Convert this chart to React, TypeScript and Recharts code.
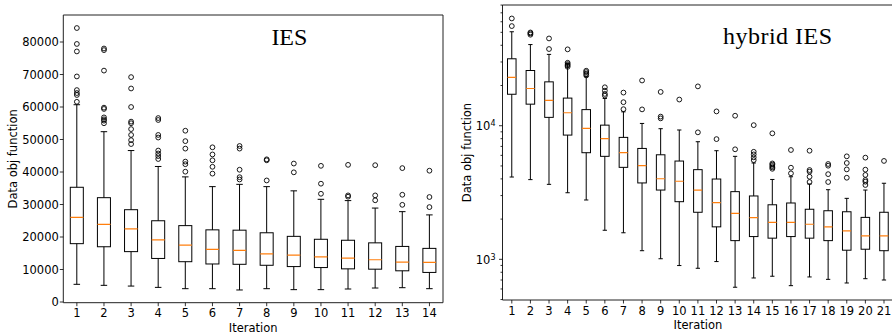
import React from 'react';
import { Bar, ComposedChart, Label, ReferenceArea, Scatter, XAxis, YAxis } from 'recharts';

// ---- left panel: IES ----
const iesIter = ['1', '2', '3', '4', '5', '6', '7', '8', '9', '10', '11', '12', '13', '14'];
const iesLow = [5440, 5130, 4900, 4500, 4100, 4100, 3700, 4100, 3800, 3800, 4000, 4300, 4400, 4100];
const iesQ1 = [17950, 17000, 15500, 13400, 12400, 11700, 11600, 11300, 10900, 10600, 10200, 10100, 9600, 9100];
const iesMed = [26050, 23900, 22500, 19100, 17500, 16200, 15900, 14800, 14400, 13900, 13500, 13000, 12300, 12200];
const iesQ3 = [35300, 32100, 28400, 25000, 23500, 22200, 22100, 21300, 20200, 19300, 19000, 18200, 17100, 16500];
const iesHigh = [60700, 52400, 46600, 41700, 38500, 35500, 36200, 35500, 34200, 31600, 31200, 28900, 27800, 26800];
const iesOut = [
  [84300, 79400, 77100, 69400, 65200, 64300, 63700, 61600],
  [78000, 77500, 71200, 59800, 59400, 56800, 56200, 55800, 55000],
  [69200, 65700, 60000, 55500, 55000, 53200, 51400, 49800, 48600],
  [56600, 56000, 51400, 50600, 46600, 45700, 44900, 44000],
  [52700, 49500, 47200, 43200, 42400, 40100],
  [47600, 45400, 43600, 41600, 39500],
  [48000, 47200, 40700, 38400, 37700],
  [43900, 43600, 37400],
  [42600, 39900],
  [41900, 36400, 33300],
  [42200, 32800, 32400],
  [42100, 32800, 31300],
  [41200, 33000, 29900],
  [40400, 32300, 29200],
];
const iesTicks = [0, 10000, 20000, 30000, 40000, 50000, 60000, 70000, 80000];
const iesDomain = [-215, 88308];

// ---- right panel: hybrid IES ----
const hybIter = ['1', '2', '3', '4', '5', '6', '7', '8', '9', '10', '11', '12', '13', '14', '15', '16', '17', '18', '19', '20', '21'];
const hybLow = [4130, 3950, 3640, 3150, 2780, 1650, 1580, 1160, 1010, 898, 857, 962, 618, 725, 747, 635, 738, 708, 665, 716, 700];
const hybQ1 = [17200, 14500, 11550, 8510, 6280, 5900, 4880, 3730, 3300, 2700, 2250, 1750, 1380, 1480, 1440, 1480, 1440, 1380, 1170, 1190, 1160];
const hybMed = [23000, 19000, 15500, 12500, 9550, 8000, 6280, 5020, 4010, 3840, 3300, 2660, 2210, 2050, 1890, 1890, 1830, 1750, 1630, 1500, 1500];
const hybQ3 = [31700, 25900, 21300, 16100, 13200, 10100, 8180, 6760, 6060, 5440, 4690, 3990, 3210, 2980, 2560, 2640, 2370, 2310, 2270, 2060, 2250];
const hybHigh = [50500, 40500, 34200, 29300, 23300, 16000, 12700, 10400, 9500, 9290, 7590, 6500, 5900, 5260, 3960, 4150, 3660, 3320, 2860, 3300, 3710];
const hybOut = [
  [63500, 55700],
  [49900, 49100, 48000],
  [45000, 37500],
  [37300, 29600, 28900, 28300, 27600],
  [25800, 25200, 24500, 23800],
  [19400, 18300, 17300, 16800],
  [17700, 15000, 13300],
  [21800, 13250],
  [17900, 11700, 11350],
  [15700],
  [19700, 8920],
  [12800, 7940],
  [11880, 6660],
  [10100, 6380, 6100, 5800, 5530],
  [8770, 5220, 5110, 4990, 4880, 4760],
  [6580, 4850, 4400],
  [6500, 4660, 4530, 4150, 3790],
  [5170, 5020, 4340, 3790],
  [5900, 5260, 4710, 4080],
  [5770, 4690, 4280, 3920, 3810, 3600],
  [5450],
];
const hybTicks = [
  500, 600, 700, 800, 900,
  1000, 2000, 3000, 4000, 5000, 6000, 7000, 8000, 9000,
  10000, 20000, 30000, 40000, 50000, 60000, 70000, 80000,
];
const hybDomain = [496, 80100];

const SANS = "'DejaVu Sans', sans-serif";
const SERIF = "'Liberation Serif', 'DejaVu Serif', serif";
const MEDIAN = '#ff7f0e';

function buildRows(iter: string[], lo: number[], q1: number[], med: number[], q3: number[], hi: number[], out: number[][]) {
  return iter.map((it, i) => {
    const row: any = { it, wh: [lo[i], hi[i]], box: [q1[i], q3[i]], med: med[i] };
    out[i].forEach((v, k) => (row[`o${k}`] = v));
    return row;
  });
}

const iesRows = buildRows(iesIter, iesLow, iesQ1, iesMed, iesQ3, iesHigh, iesOut);
const hybRows = buildRows(hybIter, hybLow, hybQ1, hybMed, hybQ3, hybHigh, hybOut);
const iesOutMax = Math.max(...iesOut.map((o) => o.length));
const hybOutMax = Math.max(...hybOut.map((o) => o.length));

const whiskerShape = (props: any) => {
  const { x, y, width, height } = props;
  if (![x, y, width, height].every(Number.isFinite)) return null;
  const top = Math.min(y, y + height);
  const bot = Math.max(y, y + height);
  const cx = x + width / 2;
  const cap = width / 4;
  return (
    <g stroke="#000" strokeWidth={1} fill="none">
      <line x1={cx} x2={cx} y1={top} y2={bot} />
      <line x1={cx - cap} x2={cx + cap} y1={top} y2={top} />
      <line x1={cx - cap} x2={cx + cap} y1={bot} y2={bot} />
    </g>
  );
};

const boxShape = (props: any) => {
  const { x, y, width, height } = props;
  if (![x, y, width, height].every(Number.isFinite)) return null;
  return (
    <rect x={x} y={Math.min(y, y + height)} width={width} height={Math.abs(height)} fill="#fff" stroke="#000" strokeWidth={1} />
  );
};

const medianShape = (w: number) => (props: any) => {
  const { cx, cy } = props;
  if (!Number.isFinite(cx) || !Number.isFinite(cy)) return null;
  return <line x1={cx - w / 2} x2={cx + w / 2} y1={cy} y2={cy} stroke={MEDIAN} strokeWidth={1.2} />;
};

const flierShape = (props: any) => {
  const { cx, cy } = props;
  if (!Number.isFinite(cx) || !Number.isFinite(cy)) return null;
  return <circle cx={cx} cy={cy} r={2.4} fill="none" stroke="#000" strokeWidth={0.9} />;
};

const yLabel = (dx: number) => (p: any) => {
  const vb = p.viewBox;
  const x = vb.x + dx;
  const y = vb.y + vb.height / 2;
  return (
    <text x={x} y={y} transform={`rotate(-90 ${x} ${y})`} textAnchor="middle" dominantBaseline="central" fontFamily={SANS} fontSize={11.5} fill="#000">
      Data obj function
    </text>
  );
};

const xLabel = (dy: number) => (p: any) => {
  const vb = p.viewBox;
  return (
    <text x={vb.x + vb.width / 2} y={vb.y + dy} textAnchor="middle" fontFamily={SANS} fontSize={11.5} fill="#000">
      Iteration
    </text>
  );
};

const title = (text: string, fx: number, dy: number, spacing: number) => (p: any) => {
  const vb = p.viewBox;
  if (!vb) return null;
  return (
    <text x={vb.x + vb.width * fx} y={vb.y + dy} fontFamily={SERIF} fontSize={24} letterSpacing={spacing} fill="#000">
      {text}
    </text>
  );
};

const LogTick = (props: any) => {
  const { x, y, payload } = props;
  const exp = Math.log10(payload.value);
  const major = Math.abs(exp - Math.round(exp)) < 1e-6;
  const len = major ? 3.5 : 2;
  return (
    <g>
      <line x1={x - len} x2={x} y1={y} y2={y} stroke="#000" strokeWidth={0.8} />
      {major && (
        <text x={x - 7} y={y} dy="0.4em" textAnchor="end" fontFamily={SANS} fontSize={11.5} fill="#000">
          10
          <tspan dy="-0.55em" fontSize={8}>
            {Math.round(exp)}
          </tspan>
        </text>
      )}
    </g>
  );
};

const tickStyle = { fontSize: 11.5, fill: '#000', fontFamily: SANS };
const IES_BOX = 13.02;
const HYB_BOX = 8.55;

export default function App() {
  return (
    <div style={{ position: 'absolute', left: 0, top: 0, width: 892, height: 335, overflow: 'hidden', background: '#fff' }}>
      <div style={{ position: 'absolute', left: 0, top: 0 }}>
        <ComposedChart width={460} height={335} data={iesRows} barGap={-IES_BOX} margin={{ top: 15, right: 17, left: 0, bottom: 0 }}>
          <XAxis
            dataKey="it"
            interval={0}
            height={32.3}
            axisLine={false}
            tickSize={3.5}
            tickMargin={3}
            tickLine={{ stroke: '#000', strokeWidth: 0.8 }}
            tick={tickStyle}
          >
            <Label content={xLabel(29)} />
          </XAxis>
          <YAxis
            type="number"
            domain={iesDomain}
            ticks={iesTicks}
            allowDataOverflow
            width={63.3}
            axisLine={false}
            tickSize={3.5}
            tickMargin={1}
            tickLine={{ stroke: '#000', strokeWidth: 0.8 }}
            tick={tickStyle}
          >
            <Label content={yLabel(13.3)} />
          </YAxis>
          <Bar dataKey="wh" barSize={IES_BOX} shape={whiskerShape} isAnimationActive={false} />
          <Bar dataKey="box" barSize={IES_BOX} shape={boxShape} isAnimationActive={false} />
          <Scatter dataKey="med" shape={medianShape(IES_BOX)} isAnimationActive={false} />
          {Array.from({ length: iesOutMax }, (_, k) => (
            <Scatter key={k} dataKey={`o${k}`} shape={flierShape} isAnimationActive={false} />
          ))}
          <ReferenceArea
            x1={iesIter[0]}
            x2={iesIter[iesIter.length - 1]}
            y1={iesDomain[0]}
            y2={iesDomain[1]}
            fill="none"
            fillOpacity={0}
            stroke="#222"
            strokeWidth={1}
            ifOverflow="visible"
          >
            <Label content={title('IES', 0.548, 29.5, 0)} />
          </ReferenceArea>
        </ComposedChart>
      </div>
      <div style={{ position: 'absolute', left: 440, top: 0 }}>
        <ComposedChart width={460} height={335} data={hybRows} barGap={-HYB_BOX} margin={{ top: 5, right: 6.7, left: 0, bottom: 0 }}>
          <XAxis
            dataKey="it"
            interval={0}
            height={35}
            axisLine={false}
            tickSize={3.5}
            tickMargin={3}
            tickLine={{ stroke: '#000', strokeWidth: 0.8 }}
            tick={tickStyle}
          >
            <Label content={xLabel(29)} />
          </XAxis>
          <YAxis
            type="number"
            scale="log"
            domain={hybDomain}
            ticks={hybTicks}
            interval={0}
            allowDataOverflow
            width={62.5}
            axisLine={false}
            tickSize={0}
            tickMargin={0}
            tickLine={false}
            tick={<LogTick />}
          >
            <Label content={yLabel(27.3)} />
          </YAxis>
          <Bar dataKey="wh" barSize={HYB_BOX} shape={whiskerShape} isAnimationActive={false} />
          <Bar dataKey="box" barSize={HYB_BOX} shape={boxShape} isAnimationActive={false} />
          <Scatter dataKey="med" shape={medianShape(HYB_BOX)} isAnimationActive={false} />
          {Array.from({ length: hybOutMax }, (_, k) => (
            <Scatter key={k} dataKey={`o${k}`} shape={flierShape} isAnimationActive={false} />
          ))}
          <ReferenceArea
            x1={hybIter[0]}
            x2={hybIter[hybIter.length - 1]}
            y1={hybDomain[0]}
            y2={hybDomain[1]}
            fill="none"
            fillOpacity={0}
            stroke="#222"
            strokeWidth={1}
            ifOverflow="visible"
          >
            <Label content={title('hybrid IES', 0.564, 39, 0.5)} />
          </ReferenceArea>
        </ComposedChart>
      </div>
    </div>
  );
}
